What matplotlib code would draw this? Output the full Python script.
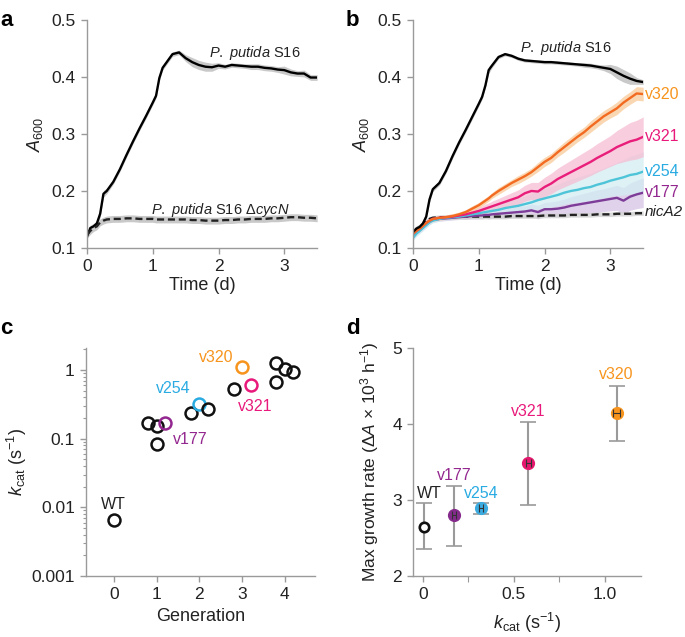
import numpy as np
import matplotlib
matplotlib.use("Agg")
import matplotlib.pyplot as plt
from matplotlib.ticker import FixedLocator, FixedFormatter, LogLocator, NullFormatter

plt.rcParams['font.family'] = ['Liberation Sans', 'DejaVu Sans']
plt.rcParams['mathtext.fontset'] = 'custom'
plt.rcParams['mathtext.rm'] = 'Liberation Sans'
plt.rcParams['mathtext.it'] = 'Liberation Sans:italic'
plt.rcParams['mathtext.bf'] = 'Liberation Sans:bold'
plt.rcParams['text.color'] = '#222222'
plt.rcParams['axes.labelcolor'] = '#222222'

# ---- growth curves (time in days) ----
t = [0, 0.05, 0.1, 0.15, 0.2, 0.25, 0.3, 0.4, 0.5, 0.6, 0.7, 0.8, 0.9, 1.0,
     1.05, 1.1, 1.15, 1.2, 1.3, 1.4, 1.5, 1.6, 1.7, 1.8, 1.9, 2.0, 2.1, 2.2,
     2.3, 2.4, 2.5, 2.6, 2.7, 2.8, 2.9, 3.0, 3.1, 3.2, 3.3, 3.4, 3.5]

# panel a
a_s16 = [0.120, 0.135, 0.138, 0.143, 0.160, 0.195, 0.200,
         0.216, 0.238, 0.263, 0.287, 0.310, 0.332, 0.355,
         0.367, 0.398, 0.416, 0.424,
         0.440, 0.443, 0.433, 0.426, 0.421, 0.418, 0.417, 0.420, 0.418, 0.421,
         0.420, 0.419, 0.418, 0.418, 0.416, 0.415, 0.413, 0.412, 0.408, 0.406,
         0.406, 0.399, 0.399]
a_s16_sd = [0.005, 0.005, 0.005, 0.005, 0.006, 0.006, 0.005,
            0.004, 0.004, 0.004, 0.004, 0.004, 0.004, 0.004,
            0.004, 0.004, 0.004, 0.004,
            0.004, 0.004, 0.006, 0.008, 0.008, 0.008, 0.007, 0.005, 0.004, 0.004,
            0.004, 0.004, 0.005, 0.005, 0.005, 0.005, 0.005, 0.007, 0.006, 0.005,
            0.006, 0.005, 0.005]
a_dcycn = [0.123, 0.130, 0.135, 0.138, 0.145, 0.148, 0.150,
           0.151, 0.151, 0.152, 0.152, 0.151, 0.151, 0.151,
           0.150, 0.150, 0.150, 0.150,
           0.150, 0.150, 0.150, 0.149, 0.149, 0.148, 0.148, 0.148, 0.149, 0.149,
           0.150, 0.150, 0.151, 0.151, 0.151, 0.152, 0.152, 0.153, 0.154, 0.154,
           0.153, 0.153, 0.152]
a_dcycn_sd = [0.006, 0.006, 0.006, 0.006, 0.006, 0.006, 0.006,
              0.006, 0.006, 0.006, 0.006, 0.006, 0.006, 0.006,
              0.006, 0.006, 0.006, 0.006,
              0.006, 0.006, 0.006, 0.006, 0.006, 0.006, 0.006, 0.006, 0.006, 0.006,
              0.006, 0.006, 0.006, 0.006, 0.006, 0.006, 0.006, 0.006, 0.006, 0.006,
              0.006, 0.006, 0.006]

# panel b
b_s16 = [0.128, 0.134, 0.137, 0.143, 0.155, 0.185, 0.203,
         0.214, 0.235, 0.261, 0.285, 0.307, 0.330, 0.353,
         0.365, 0.385, 0.412, 0.420,
         0.435, 0.440, 0.437, 0.432, 0.429, 0.428, 0.427, 0.426, 0.426, 0.425,
         0.424, 0.423, 0.422, 0.421, 0.420, 0.418, 0.416, 0.414, 0.408, 0.402,
         0.397, 0.393, 0.391]
b_s16_sd = [0.005, 0.005, 0.005, 0.005, 0.005, 0.005, 0.004,
            0.004, 0.004, 0.004, 0.004, 0.004, 0.004, 0.004,
            0.004, 0.004, 0.006, 0.004,
            0.003, 0.003, 0.003, 0.003, 0.003, 0.003, 0.003, 0.003, 0.003, 0.003,
            0.003, 0.003, 0.003, 0.004, 0.004, 0.004, 0.005, 0.008, 0.011, 0.011,
            0.010, 0.006, 0.004]
b_nica2 = [0.125, 0.130, 0.134, 0.140, 0.147, 0.151, 0.153,
           0.154, 0.154, 0.154, 0.155, 0.155, 0.155, 0.155,
           0.155, 0.155, 0.155, 0.155,
           0.155, 0.155, 0.156, 0.156, 0.156, 0.156, 0.156, 0.157, 0.157, 0.157,
           0.157, 0.158, 0.158, 0.158, 0.158, 0.159, 0.159, 0.159, 0.160, 0.160,
           0.160, 0.161, 0.161]
b_nica2_sd = [0.004, 0.004, 0.004, 0.004, 0.004, 0.004, 0.004,
              0.004, 0.004, 0.004, 0.004, 0.004, 0.004, 0.004,
              0.004, 0.004, 0.004, 0.004,
              0.004, 0.004, 0.004, 0.004, 0.004, 0.004, 0.004, 0.004, 0.004, 0.004,
              0.004, 0.004, 0.004, 0.004, 0.004, 0.004, 0.004, 0.004, 0.004, 0.004,
              0.004, 0.004, 0.004]
b_v320 = [0.125, 0.130, 0.134, 0.139, 0.144, 0.148, 0.151,
          0.153, 0.154, 0.156, 0.159, 0.163, 0.169, 0.175,
          0.179, 0.183, 0.187, 0.192,
          0.200, 0.207, 0.214, 0.220, 0.226, 0.233, 0.242, 0.251, 0.258, 0.268,
          0.277, 0.286, 0.295, 0.303, 0.313, 0.322, 0.331, 0.338, 0.345, 0.355,
          0.363, 0.371, 0.370]
b_v320_sd = [0.004, 0.004, 0.004, 0.004, 0.004, 0.004, 0.004,
             0.004, 0.004, 0.004, 0.004, 0.004, 0.005, 0.005,
             0.005, 0.005, 0.005, 0.005,
             0.006, 0.006, 0.006, 0.007, 0.007, 0.007, 0.008, 0.008, 0.008, 0.008,
             0.009, 0.009, 0.009, 0.009, 0.010, 0.010, 0.010, 0.010, 0.011, 0.011,
             0.011, 0.012, 0.012]
b_v321 = [0.125, 0.130, 0.134, 0.139, 0.144, 0.148, 0.151,
          0.153, 0.154, 0.155, 0.157, 0.159, 0.162, 0.165,
          0.167, 0.169, 0.171, 0.173,
          0.177, 0.181, 0.185, 0.189, 0.196, 0.200, 0.199, 0.207, 0.213, 0.221,
          0.227, 0.233, 0.239, 0.245, 0.251, 0.258, 0.264, 0.270, 0.277, 0.282,
          0.287, 0.290, 0.295]
b_v321_sd = [0.004, 0.004, 0.004, 0.004, 0.004, 0.004, 0.004,
             0.004, 0.004, 0.005, 0.005, 0.005, 0.006, 0.007,
             0.007, 0.008, 0.008, 0.009,
             0.010, 0.011, 0.012, 0.013, 0.014, 0.015, 0.016, 0.017, 0.018, 0.019,
             0.020, 0.021, 0.022, 0.023, 0.024, 0.025, 0.026, 0.027, 0.029, 0.031,
             0.033, 0.034, 0.035]
b_v254 = [0.118, 0.125, 0.130, 0.135, 0.140, 0.145, 0.148,
          0.151, 0.153, 0.154, 0.155, 0.157, 0.159, 0.161,
          0.162, 0.163, 0.164, 0.165,
          0.167, 0.170, 0.172, 0.174, 0.177, 0.180, 0.184, 0.187, 0.190, 0.193,
          0.197, 0.200, 0.202, 0.205, 0.207, 0.211, 0.214, 0.218, 0.221, 0.224,
          0.228, 0.230, 0.234]
b_v254_sd = [0.005, 0.005, 0.005, 0.005, 0.005, 0.005, 0.004,
             0.004, 0.004, 0.004, 0.005, 0.005, 0.006, 0.007,
             0.007, 0.008, 0.008, 0.009,
             0.010, 0.011, 0.012, 0.013, 0.014, 0.015, 0.016, 0.017, 0.018, 0.019,
             0.020, 0.021, 0.022, 0.023, 0.024, 0.025, 0.026, 0.027, 0.029, 0.031,
             0.033, 0.034, 0.035]
b_v177 = [0.120, 0.126, 0.131, 0.136, 0.141, 0.146, 0.149,
          0.151, 0.152, 0.153, 0.154, 0.155, 0.156, 0.157,
          0.157, 0.158, 0.158, 0.159,
          0.160, 0.161, 0.162, 0.163, 0.164, 0.166, 0.163, 0.168, 0.168, 0.169,
          0.171, 0.174, 0.176, 0.178, 0.180, 0.182, 0.184, 0.186, 0.188, 0.183,
          0.190, 0.194, 0.197]
b_v177_sd = [0.005, 0.005, 0.005, 0.005, 0.005, 0.005, 0.004,
             0.004, 0.004, 0.004, 0.004, 0.005, 0.005, 0.006,
             0.006, 0.006, 0.007, 0.007,
             0.008, 0.008, 0.009, 0.010, 0.010, 0.011, 0.012, 0.012, 0.013, 0.014,
             0.015, 0.016, 0.017, 0.018, 0.019, 0.020, 0.020, 0.021, 0.022, 0.023,
             0.024, 0.025, 0.026]

# ---- panel c: kcat vs generation ----
c_gen = [0, 0.8, 1.0, 1.0, 1.2, 1.8, 2.0, 2.2, 2.8, 3.0, 3.2, 3.8, 3.8, 4.0, 4.2]
c_kcat = [0.0065, 0.17, 0.153, 0.083, 0.17, 0.238, 0.325, 0.275, 0.527,
          1.09, 0.597, 1.28, 0.66, 1.02, 0.95]
c_name = ['WT', '', '', '', 'v177', '', 'v254', '', '', 'v320', 'v321',
          '', '', '', '']

# ---- panel d: growth rate vs kcat ----
d_name = ['WT', 'v177', 'v254', 'v321', 'v320']
d_kcat = [0.0066, 0.17, 0.32, 0.58, 1.065]
d_kcat_err = [0.0, 0.01, 0.01, 0.012, 0.02]
d_rate = [2.65, 2.80, 2.90, 3.48, 4.14]
d_rate_lo = [2.35, 2.40, 2.81, 2.93, 3.77]
d_rate_hi = [2.96, 3.19, 2.96, 4.02, 4.50]

line_col = {'v320': '#F26B21', 'v321': '#E91E7A', 'v254': '#4DC4D8', 'v177': '#7D3C98'}
band_col = {'v320': '#FAD1A6', 'v321': '#F6BDD3', 'v254': '#D3EEF4', 'v177': '#DCCDE8'}
lab_col = {'WT': '#222222', 'v320': '#F7941D', 'v321': '#E8197A', 'v254': '#29ABE2', 'v177': '#93278F'}
dot_col = {'v320': '#F7941D', 'v321': '#E5186E', 'v254': '#3AAADF', 'v177': '#852B8C'}
spine_col = '#9a9a9a'

fig = plt.figure(figsize=(6.85, 6.37), dpi=100)
ax_a = fig.add_axes([0.127, 0.6107, 0.336, 0.358])
ax_b = fig.add_axes([0.603, 0.6107, 0.336, 0.358])
ax_c = fig.add_axes([0.1255, 0.0958, 0.334, 0.358])
ax_d = fig.add_axes([0.603, 0.0958, 0.333, 0.358])


def style(ax):
    for s in ['top', 'right']:
        ax.spines[s].set_visible(False)
    for s in ['left', 'bottom']:
        ax.spines[s].set_color(spine_col)
        ax.spines[s].set_linewidth(1.0)
    ax.tick_params(which='both', direction='out', color=spine_col, labelsize=12.5,
                   labelcolor='#222222')
    ax.tick_params(which='major', length=4, width=1.0, pad=4)
    ax.tick_params(which='minor', length=2.5, width=0.8)


def band(ax, y, sd, col, alpha=1.0):
    y = np.array(y)
    sd = np.array(sd)
    ax.fill_between(t, y - sd, y + sd, color=col, alpha=alpha, lw=0)


# panel a
style(ax_a)
band(ax_a, a_s16, a_s16_sd, '#c9c9c9')
band(ax_a, a_dcycn, a_dcycn_sd, '#c9c9c9')
ax_a.plot(t, a_s16, color='black', lw=1.7)
ax_a.plot(t, a_dcycn, color='#222222', lw=1.7, dashes=(3, 1.6))
ax_a.set_xlim(0, 3.5)
ax_a.set_ylim(0.1, 0.5)
ax_a.set_xticks([0, 1, 2, 3])
ax_a.set_yticks([0.1, 0.2, 0.3, 0.4, 0.5])
ax_a.set_xlabel('Time (d)', fontsize=13, labelpad=2)
ax_a.set_ylabel('$A_{600}$', fontsize=13, labelpad=5)
ax_a.text(2.55, 0.442, r'$\it{P.\ putida}$ S16', fontsize=10.5, ha='center', va='center')
ax_a.text(2.02, 0.167, r'$\it{P.\ putida}$ S16 $\Delta\it{cycN}$', fontsize=10.5,
          ha='center', va='center')

# panel b
style(ax_b)
band(ax_b, b_v177, b_v177_sd, band_col['v177'], 0.9)
band(ax_b, b_v254, b_v254_sd, band_col['v254'], 0.75)
band(ax_b, b_v321, b_v321_sd, band_col['v321'], 0.75)
band(ax_b, b_v320, b_v320_sd, band_col['v320'], 0.85)
band(ax_b, b_s16, b_s16_sd, '#c9c9c9')
band(ax_b, b_nica2, b_nica2_sd, '#d0d0d0', 0.8)
ax_b.plot(t, b_nica2, color='#222222', lw=1.7, dashes=(3, 1.6))
ax_b.plot(t, b_v177, color=line_col['v177'], lw=1.7)
ax_b.plot(t, b_v254, color=line_col['v254'], lw=1.7)
ax_b.plot(t, b_v321, color=line_col['v321'], lw=1.7)
ax_b.plot(t, b_v320, color=line_col['v320'], lw=1.7)
ax_b.plot(t, b_s16, color='black', lw=1.7)
ax_b.set_xlim(0, 3.5)
ax_b.set_ylim(0.1, 0.5)
ax_b.set_xticks([0, 1, 2, 3])
ax_b.set_yticks([0.1, 0.2, 0.3, 0.4, 0.5])
ax_b.set_xlabel('Time (d)', fontsize=13, labelpad=2)
ax_b.set_ylabel('$A_{600}$', fontsize=13, labelpad=5)
ax_b.text(2.33, 0.4506, r'$\it{P.\ putida}$ S16', fontsize=10.5, ha='center', va='center')
end_labels = [('v320', b_v320[-1]), ('v321', b_v321[-1]), ('v254', b_v254[-1]),
              ('v177', b_v177[-1])]
for name, yv in end_labels:
    ax_b.text(3.53, yv, name, color=lab_col[name], fontsize=11.5, ha='left',
              va='center', clip_on=False)
ax_b.text(3.53, b_nica2[-1] + 0.002, 'nicA2', fontsize=11, style='italic', ha='left',
          va='center', clip_on=False)

# panel c
style(ax_c)
ax_c.set_yscale('log')
for gx, kc, nm in zip(c_gen, c_kcat, c_name):
    ec = lab_col[nm] if nm in ('v177', 'v254', 'v320', 'v321') else '#111111'
    ax_c.plot(gx, kc, 'o', ms=8.6, mfc='none', mec=ec, mew=1.8)
c_lab_off = {'WT': (0, 11, 'center'), 'v177': (6, -12, 'left'),
             'v254': (-6, 11, 'right'), 'v320': (-6, 7, 'right'),
             'v321': (-9, -15, 'left')}
for gx, kc, nm in zip(c_gen, c_kcat, c_name):
    if nm:
        dx, dy, ha = c_lab_off[nm]
        ax_c.annotate(nm, (gx, kc), xytext=(dx, dy), textcoords='offset points',
                      color=lab_col[nm], fontsize=11.5, ha=ha, va='center')
ax_c.set_xlim(-0.65, 4.7)
ax_c.set_ylim(0.001, 2.1)
ax_c.set_xticks([0, 1, 2, 3, 4])
ax_c.yaxis.set_major_locator(FixedLocator([0.001, 0.01, 0.1, 1]))
ax_c.yaxis.set_major_formatter(FixedFormatter(['0.001', '0.01', '0.1', '1']))
ax_c.yaxis.set_minor_locator(LogLocator(base=10, subs=np.arange(2, 10)))
ax_c.yaxis.set_minor_formatter(NullFormatter())
ax_c.set_xlabel('Generation', fontsize=13, labelpad=4)
ax_c.set_ylabel(r'$k_{\rm cat}$ (s$^{-1}$)', fontsize=13, labelpad=2)

# panel d
style(ax_d)
for i, nm in enumerate(d_name):
    ax_d.errorbar(d_kcat[i], d_rate[i],
                  yerr=[[d_rate[i] - d_rate_lo[i]], [d_rate_hi[i] - d_rate[i]]],
                  fmt='none', ecolor='#9a9a9a', elinewidth=1.5, capsize=5.5,
                  capthick=1.2, zorder=2)
    if nm == 'WT':
        ax_d.plot(d_kcat[i], d_rate[i], 'o', ms=6.8, mfc='white', mec='#111111',
                  mew=1.9, zorder=3)
    else:
        ax_d.plot(d_kcat[i], d_rate[i], 'o', ms=9.5, mfc=dot_col[nm], mec='none',
                  zorder=3)
        ax_d.errorbar(d_kcat[i], d_rate[i], xerr=d_kcat_err[i], fmt='none',
                      ecolor='#333333', elinewidth=0.8, capsize=2.8, capthick=0.8,
                      zorder=4)
d_lab_off = {'WT': (4, 3.08), 'v177': (0, 3.32), 'v254': (0, 3.09),
             'v321': (0, 4.16), 'v320': (0, 4.65)}
for i, nm in enumerate(d_name):
    ax_d.annotate(nm, (d_kcat[i], d_lab_off[nm][1]), xytext=(d_lab_off[nm][0], 0),
                  textcoords='offset points', color=lab_col[nm], fontsize=11.5,
                  ha='center', va='center')
ax_d.set_xlim(-0.055, 1.2)
ax_d.set_ylim(2, 5)
ax_d.set_xticks([0, 0.5, 1.0])
ax_d.set_xticklabels(['0', '0.5', '1.0'])
ax_d.set_xticks([0.25, 0.75], minor=True)
ax_d.tick_params(which='minor', length=4)
ax_d.set_yticks([2, 3, 4, 5])
ax_d.set_xlabel(r'$k_{\rm cat}$ (s$^{-1}$)', fontsize=13, labelpad=6)
ax_d.set_ylabel(r'Max growth rate ($\Delta$$\it{A}$ × 10$^{3}$ h$^{-1}$)',
                fontsize=12.5, labelpad=8)

# panel letters
for x, y, s in [(0.0, 0.985, 'a'), (0.505, 0.985, 'b'), (0.0, 0.5, 'c'), (0.505, 0.5, 'd')]:
    fig.text(x, y, s, fontsize=16, fontweight='bold', ha='left', va='top', color='black')

fig.savefig('out.png', dpi=100)
